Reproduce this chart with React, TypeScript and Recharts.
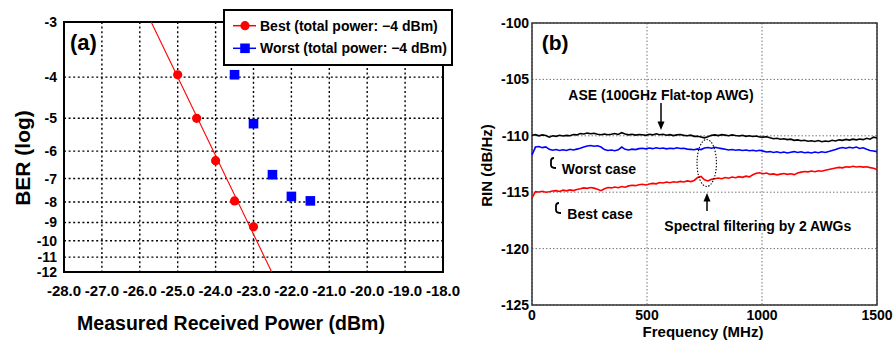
import React from 'react';
import {
  ComposedChart,
  LineChart,
  Line,
  Scatter,
  XAxis,
  YAxis,
  CartesianGrid,
  ReferenceArea
} from 'recharts';

const FONT = '"Liberation Sans", Arial, Helvetica, sans-serif';

// ---- (a) BER curves ----
const powerTicks = [-28, -27, -26, -25, -24, -23, -22, -21, -20, -19, -18];
const berTicks = [-3, -4, -5, -6, -7, -8, -9, -10, -11, -12];

const bestPower = [-25.0, -24.5, -24.0, -23.5, -23.0];
const bestBer = [-3.95, -5.0, -6.33, -7.95, -9.23];

const worstPower = [-23.5, -23.0, -22.5, -22.0, -21.5];
const worstBer = [-3.95, -5.15, -6.85, -7.75, -7.95];

// linear fit through the best-case points (end points on the frame)
const fitPower = [-25.7, -22.52];
const fitBer = [-3, -12];

// BER paper: log of -log(BER), with a small offset
const berScale = (e: number) => Math.log10(-e - 0.5);
const berLabel = (v: number) => String(-Math.round(Math.pow(10, v) + 0.5));

const toPoints = (xs: number[], ys: number[]) =>
  xs.map((x, i) => ({ x, y: berScale(ys[i]) }));

const bestPts = toPoints(bestPower, bestBer);
const worstPts = toPoints(worstPower, worstBer);
const fitPts = toPoints(fitPower, fitBer);

// ---- (b) RIN spectra ----
const freqTicks = [0, 500, 1000, 1500];
const rinTicks = [-125, -120, -115, -110, -105, -100];
const freqStep = 15;

const rinAse = [
  -109.95, -109.9, -110.0, -109.92, -109.98, -110.12, -110.0, -110.05, -109.95, -110.02,
  -109.96, -110.0, -109.88, -109.92, -109.8, -109.84, -109.76, -109.82, -109.78, -109.86,
  -109.9, -109.84, -109.9, -109.86, -109.8, -109.88, -109.72, -109.84, -109.92, -109.86,
  -109.94, -109.88, -109.9, -109.96, -109.86, -109.92, -109.82, -109.9, -109.86, -109.95,
  -109.9, -109.98, -109.92, -109.88, -109.96, -110.0, -109.94, -110.05, -110.04, -110.1,
  -110.18, -110.08, -109.96, -109.92, -109.98, -109.9, -109.94, -110.0, -109.92, -109.98,
  -110.02, -109.96, -110.05, -110.0, -110.06, -110.02, -110.1, -110.12, -110.08, -110.18,
  -110.26, -110.22, -110.3, -110.26, -110.34, -110.3, -110.4, -110.36, -110.44, -110.4,
  -110.48, -110.44, -110.5, -110.42, -110.52, -110.46, -110.5, -110.4, -110.46, -110.36,
  -110.4, -110.32, -110.38, -110.3, -110.36, -110.28, -110.34, -110.22, -110.3, -110.12,
  -110.2
];

const rinWorst = [
  -111.7, -111.0, -110.95, -111.05, -110.98, -111.2, -111.28, -111.22, -111.3, -111.24,
  -111.3, -111.2, -111.26, -111.18, -111.1, -111.0, -110.9, -110.86, -110.92, -110.88,
  -111.0, -111.22, -111.3, -111.26, -111.32, -111.24, -111.0, -111.2, -111.26, -111.18,
  -111.22, -111.14, -111.1, -111.16, -111.08, -111.14, -111.06, -111.12, -111.08, -111.16,
  -111.1, -111.14, -111.06, -111.12, -111.1, -111.18, -111.2, -111.24, -111.16, -111.22,
  -111.08, -111.04, -111.1, -111.02, -111.08, -111.14, -111.2, -111.26, -111.22, -111.28,
  -111.24, -111.3, -111.26, -111.32, -111.28, -111.34, -111.28, -111.36, -111.44, -111.4,
  -111.48, -111.42, -111.5, -111.44, -111.52, -111.46, -111.4, -111.48, -111.42, -111.5,
  -111.46, -111.52, -111.44, -111.5, -111.42, -111.48, -111.4, -111.3, -111.22, -111.1,
  -111.04, -111.1, -111.02, -111.08, -111.0, -111.12, -111.06, -111.2, -111.3, -111.34,
  -111.4
];

const rinBest = [
  -115.5, -114.95, -114.98, -114.92, -115.0, -114.96, -114.9, -114.86, -114.94, -114.82,
  -114.88, -114.8, -114.86, -114.76, -114.7, -114.62, -114.66, -114.58, -114.64, -114.74,
  -114.86, -114.7, -114.58, -114.62, -114.54, -114.6, -114.5, -114.56, -114.44, -114.38,
  -114.42, -114.34, -114.3, -114.36, -114.28, -114.22, -114.26, -114.14, -114.18, -114.1,
  -114.16, -114.08, -114.12, -114.04, -114.1, -114.0, -114.06, -113.96, -113.7, -113.6,
  -113.9, -114.0, -113.86, -113.8, -113.74, -113.8, -113.7, -113.76, -113.66, -113.72,
  -113.62, -113.68, -113.58, -113.64, -113.46, -113.32, -113.28, -113.36, -113.3, -113.42,
  -113.38, -113.46, -113.4, -113.34, -113.42, -113.36, -113.44, -113.3, -113.22, -113.16,
  -113.2, -113.12, -113.18, -113.1, -113.14, -113.06, -112.98, -112.92, -112.86, -112.8,
  -112.84, -112.74, -112.78, -112.7, -112.76, -112.72, -112.78, -112.74, -112.82, -112.88,
  -112.98
];

const rinData = rinAse.map((ase, i) => ({
  f: i * freqStep,
  ase,
  worst: rinWorst[i],
  best: rinBest[i]
}));

const RedDot = (p: any) => <circle cx={p.cx} cy={p.cy} r={4.6} fill="#ff0000" />;
const BlueSquare = (p: any) => (
  <rect x={p.cx - 4.8} y={p.cy - 4.8} width={9.6} height={9.6} fill="#0000ff" />
);

const tickAx = { fill: '#000', fontSize: 15, fontWeight: 700, fontFamily: FONT };
const tickAy = { fill: '#000', fontSize: 14, fontWeight: 700, fontFamily: FONT };
const tickB = { fill: '#000', fontSize: 14, fontWeight: 700, fontFamily: FONT };

// small curled pointer next to the case labels
const Hook = ({ x, y }: { x: number; y: number }) => (
  <path
    d={`M ${x + 3} ${y} Q ${x} ${y} ${x} ${y + 3} L ${x} ${y + 7} Q ${x} ${y + 10} ${x + 5} ${y + 10}`}
    fill="none"
    stroke="#000"
    strokeWidth={1.8}
  />
);

const App: React.FC = () => {
  return (
    <div
      style={{
        position: 'absolute',
        left: 0,
        top: 0,
        width: 893,
        height: 341,
        background: '#fff',
        fontFamily: FONT
      }}
    >
      <div style={{ position: 'absolute', left: 0, top: 0 }}>
        <ComposedChart width={470} height={341} margin={{ top: 22, right: 27, bottom: 39, left: 14 }}>
          <CartesianGrid stroke="#000" strokeWidth={1.4} strokeDasharray="2 2.6" />
          <XAxis
            type="number"
            dataKey="x"
            domain={[-28, -18]}
            ticks={powerTicks}
            tickFormatter={(v: number) => v.toFixed(1)}
            interval={0}
            height={30}
            axisLine={false}
            tickLine={false}
            tickSize={0}
            tickMargin={13}
            tick={tickAx}
          />
          <YAxis
            type="number"
            dataKey="y"
            domain={[berScale(-3), berScale(-12)]}
            ticks={berTicks.map(berScale)}
            tickFormatter={berLabel}
            interval={0}
            reversed
            width={50}
            axisLine={false}
            tickLine={false}
            tickSize={0}
            tickMargin={7}
            tick={tickAy}
          />
          <ReferenceArea
            x1={-28}
            x2={-18}
            y1={berScale(-3)}
            y2={berScale(-12)}
            fill="none"
            stroke="#000"
            strokeWidth={2}
            fillOpacity={0}
          />
          <Line
            data={fitPts}
            dataKey="y"
            type="linear"
            stroke="#ff0000"
            strokeWidth={1.1}
            dot={false}
            isAnimationActive={false}
          />
          <Scatter data={bestPts} dataKey="y" shape={RedDot} isAnimationActive={false} />
          <Scatter data={worstPts} dataKey="y" shape={BlueSquare} isAnimationActive={false} />
        </ComposedChart>
      </div>

      <div style={{ position: 'absolute', left: 470, top: 0 }}>
        <LineChart width={423} height={341} data={rinData} margin={{ top: 23, right: 16, bottom: 16, left: 12 }}>
          <CartesianGrid stroke="#777" strokeWidth={1} strokeDasharray="1.5 2" />
          <XAxis
            type="number"
            dataKey="f"
            domain={[0, 1500]}
            ticks={freqTicks}
            interval={0}
            height={20}
            axisLine={false}
            tickLine={false}
            tickSize={0}
            tickMargin={5}
            tick={tickB}
          />
          <YAxis
            type="number"
            domain={[-125, -100]}
            ticks={rinTicks}
            interval={0}
            width={50}
            axisLine={false}
            tickLine={false}
            tickSize={0}
            tickMargin={3}
            tick={tickB}
          />
          <ReferenceArea
            x1={0}
            x2={1500}
            y1={-125}
            y2={-100}
            fill="none"
            fillOpacity={0}
            stroke="#333"
            strokeWidth={1.5}
          />
          <Line dataKey="ase" type="linear" stroke="#000" strokeWidth={1.6} dot={false} isAnimationActive={false} />
          <Line dataKey="worst" type="linear" stroke="#0000ff" strokeWidth={1.6} dot={false} isAnimationActive={false} />
          <Line dataKey="best" type="linear" stroke="#ff0000" strokeWidth={1.6} dot={false} isAnimationActive={false} />
        </LineChart>
      </div>

      <svg
        width={893}
        height={341}
        style={{ position: 'absolute', left: 0, top: 0, pointerEvents: 'none' }}
        fontFamily={FONT}
        fontWeight={700}
      >
        {/* panel (a) */}
        <text x={70} y={50} fontSize={22}>(a)</text>
        <text transform="translate(22,158) rotate(-90)" textAnchor="middle" dy="0.36em" fontSize={21}>
          BER (log)
        </text>
        <text x={231} y={330} textAnchor="middle" fontSize={19.5}>
          Measured Received Power (dBm)
        </text>
        <rect x={224} y={10} width={228} height={55} fill="#fff" stroke="#000" strokeWidth={2} />
        <line x1={233} y1={25.7} x2={256} y2={25.7} stroke="#ff0000" strokeWidth={1.5} />
        <circle cx={245} cy={25.7} r={4.6} fill="#ff0000" />
        <text x={260} y={30.7} fontSize={14}>Best (total power: −4 dBm)</text>
        <line x1={233} y1={48.3} x2={256} y2={48.3} stroke="#0000ff" strokeWidth={1.5} />
        <rect x={240.2} y={43.5} width={9.6} height={9.6} fill="#0000ff" />
        <text x={260} y={53.3} fontSize={14}>Worst (total power: −4 dBm)</text>

        {/* panel (b) */}
        <text x={541.7} y={50} fontSize={21}>(b)</text>
        <text transform="translate(487,165.5) rotate(-90)" textAnchor="middle" dy="0.36em" fontSize={15}>
          RIN (dB/Hz)
        </text>
        <text x={703} y={337} textAnchor="middle" fontSize={15}>Frequency (MHz)</text>

        <text x={568.3} y={100} fontSize={14}>ASE (100GHz Flat-top AWG)</text>
        <line x1={661} y1={103} x2={661} y2={123} stroke="#000" strokeWidth={1.5} />
        <polygon points="661,130 657.5,121.5 664.5,121.5" fill="#000" />

        <Hook x={551} y={158} />
        <text x={561.7} y={174} fontSize={14}>Worst case</text>
        <Hook x={556} y={203} />
        <text x={567.3} y={219} fontSize={14}>Best case</text>

        <ellipse cx={706.7} cy={163} rx={9.7} ry={23.5} fill="none" stroke="#000" strokeWidth={1.1} strokeDasharray="1.4 1.6" />
        <line x1={707} y1={211} x2={707} y2={199} stroke="#000" strokeWidth={1.5} />
        <polygon points="707,193 703.5,201.5 710.5,201.5" fill="#000" />
        <text x={664.3} y={231} fontSize={14}>Spectral filtering by 2 AWGs</text>
      </svg>
    </div>
  );
};

export default App;
